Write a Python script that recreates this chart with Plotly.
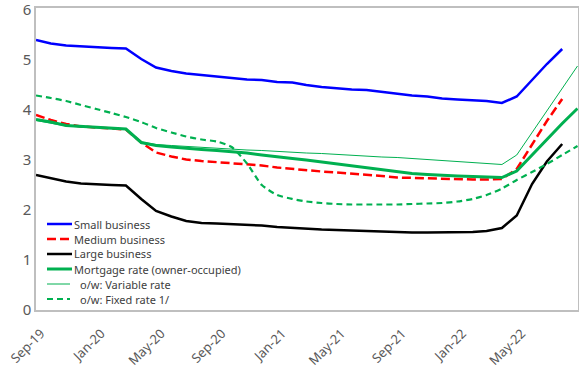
import plotly.graph_objects as go
import pandas as pd

months = pd.date_range("2019-09-01", "2022-09-01", freq="MS")

small_business = [5.40, 5.33, 5.29, 5.27, 5.26, 5.24, 5.23, 5.02, 4.85, 4.78, 4.73, 4.70,
                  4.68, 4.65, 4.61, 4.60, 4.56, 4.55, 4.50, 4.46, 4.43, 4.41, 4.40, 4.36,
                  4.32, 4.29, 4.27, 4.23, 4.21, 4.19, 4.18, 4.14, 4.27, 4.60, 4.92, 5.22, None]
medium_business = [3.90, 3.80, 3.72, 3.67, 3.65, 3.63, 3.61, 3.35, 3.15, 3.07, 3.01, 2.98,
                   2.96, 2.94, 2.92, 2.89, 2.85, 2.82, 2.79, 2.77, 2.75, 2.73, 2.70, 2.68,
                   2.65, 2.64, 2.63, 2.62, 2.61, 2.61, 2.61, 2.62, 2.82, 3.30, 3.78, 4.22, None]
large_business = [2.70, 2.63, 2.57, 2.53, 2.51, 2.50, 2.49, 2.22, 1.98, 1.87, 1.78, 1.74,
                  1.73, 1.72, 1.71, 1.69, 1.66, 1.64, 1.63, 1.61, 1.60, 1.59, 1.57, 1.57,
                  1.56, 1.55, 1.55, 1.55, 1.55, 1.56, 1.58, 1.64, 1.89, 2.52, 2.97, 3.32, None]
mortgage_rate = [3.81, 3.76, 3.69, 3.67, 3.65, 3.63, 3.62, 3.35, 3.29, 3.26, 3.23, 3.21,
                 3.19, 3.17, 3.14, 3.10, 3.06, 3.03, 3.00, 2.96, 2.92, 2.88, 2.84, 2.80,
                 2.76, 2.73, 2.71, 2.69, 2.68, 2.67, 2.66, 2.65, 2.78, 3.10, 3.43, 3.73, 4.03]
variable_rate = [3.79, 3.74, 3.68, 3.66, 3.64, 3.62, 3.61, 3.36, 3.31, 3.29, 3.27, 3.25,
                 3.24, 3.22, 3.20, 3.19, 3.17, 3.16, 3.14, 3.13, 3.11, 3.10, 3.08, 3.06,
                 3.05, 3.03, 3.01, 3.00, 2.98, 2.96, 2.94, 2.91, 3.10, 3.55, 4.00, 4.45, 4.88]
fixed_rate = [4.29, 4.24, 4.18, 4.10, 4.02, 3.94, 3.86, 3.76, 3.64, 3.55, 3.47, 3.41,
              3.37, 3.26, 2.93, 2.50, 2.30, 2.22, 2.17, 2.14, 2.12, 2.11, 2.11, 2.11,
              2.11, 2.12, 2.13, 2.14, 2.17, 2.22, 2.30, 2.43, 2.60, 2.76, 2.92, 3.10, 3.28]

series = [
    ("Small business", small_business, dict(color="#0000FF", width=2.5), ""),
    ("Medium business", medium_business, dict(color="#FF0000", width=2.5, dash="9px,4px"), ""),
    ("Large business", large_business, dict(color="#000000", width=2.5), ""),
    ("Mortgage rate (owner-occupied)", mortgage_rate, dict(color="#00B050", width=3), ""),
    ("o/w: Variable rate", variable_rate, dict(color="#00B050", width=1), "indent"),
    ("o/w: Fixed rate 1/", fixed_rate,
     dict(color="#00B050", width=2.2, dash="6px,4px", shape="spline", smoothing=0.6), "indent"),
]

fig = go.Figure()
for name, vals, line, _ in series:
    fig.add_trace(go.Scatter(x=months, y=vals, name=name, mode="lines", line=line,
                             connectgaps=False, showlegend=False, hoverinfo="skip"))

# Custom compact legend (Excel-like), placed in the lower-left of the plot area
W, H, L, T = 579, 371, 36, 8
B = 61
pw, ph = W - L - 1, H - T - B
row0_px, step_px = 224, 15
for i, (name, vals, line, ind) in enumerate(series):
    ypx = row0_px + i * step_px
    yp = (H - B - ypx) / ph
    x0 = (47 - L) / pw
    x1 = ((70 if ind else 72) - L) / pw
    lstyle = dict(color=line["color"], width=line["width"])
    if "dash" in line:
        lstyle["dash"] = line["dash"]
    fig.add_shape(type="line", xref="paper", yref="paper", x0=x0, x1=x1, y0=yp, y1=yp,
                  line=lstyle)
    fig.add_annotation(xref="paper", yref="paper", x=((78 if ind else 72) - L) / pw, y=yp,
                       text=name, showarrow=False, xanchor="left", yanchor="middle",
                       font=dict(size=11, color="#404040"))

fig.update_layout(
    width=W, height=H,
    margin=dict(l=L, r=1, t=T, b=B),
    paper_bgcolor="white", plot_bgcolor="white",
    font=dict(family="Noto Sans", color="#595959"),
    showlegend=False,
    xaxis=dict(range=["2019-09-01", "2022-09-02"], tick0="2019-09-01", dtick="M4",
               tickformat="%b-%y", tickangle=-45, showgrid=False, ticks="", automargin=False,
               tickfont=dict(size=13, color="#595959"), ticklabelshift=5, ticklabelstandoff=9,
               showline=True, linecolor="#BFBFBF", linewidth=1.5, mirror=True, zeroline=False),
    yaxis=dict(range=[0, 6.04], tickvals=[0, 1, 2, 3, 4, 5, 6], showgrid=False, ticks="",
               automargin=False, ticklabeloverflow="allow",
               tickfont=dict(size=15, color="#595959"),
               showline=True, linecolor="#BFBFBF", linewidth=1.5, mirror=True, zeroline=False),
)

fig.write_html("out.html", config={"displayModeBar": False},
               post_script="document.body.style.margin='0';")
